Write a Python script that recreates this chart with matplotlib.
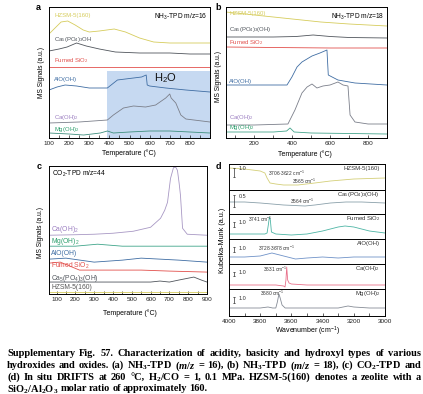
import matplotlib
matplotlib.use('Agg')
import matplotlib.pyplot as plt
from matplotlib.ticker import MultipleLocator

plt.rcParams['font.family'] = ['Liberation Sans', 'DejaVu Sans']
plt.rcParams['mathtext.fontset'] = 'custom'
plt.rcParams['mathtext.rm'] = 'Liberation Sans'
plt.rcParams['mathtext.it'] = 'Liberation Serif:italic:bold'
plt.rcParams['mathtext.bf'] = 'Liberation Sans:bold'

# ---------------- data: panel a (NH3-TPD m/z=16) ----------------
a_hzsm_T = [100, 130, 160, 193, 230, 270, 300, 350, 424, 480, 550, 620, 700, 800, 900]
a_hzsm_y = [104, 110, 116, 117, 113, 108, 106, 107, 109, 106, 100, 96, 95, 95, 95]
a_ca5_T = [100, 150, 190, 237, 285, 350, 430, 550, 700, 800, 900]
a_ca5_y = [87, 89, 91, 95, 92, 89, 86, 85, 85, 84, 84]
a_sio2_T = [100, 400, 900]
a_sio2_y = [71, 71, 71]
a_alo_T = [100, 140, 180, 237, 300, 390, 415, 440, 480, 520, 560, 583, 588, 600, 680, 780, 900]
a_alo_y = [48, 51, 53, 52, 50, 50, 54, 58, 59, 60, 61, 63, 53, 52, 50, 48, 46]
a_caoh_T = [100, 250, 390, 420, 470, 520, 580, 630, 680, 700, 707, 730, 755, 780, 900]
a_caoh_y = [15, 16, 18, 23, 30, 32, 31, 33, 40, 44, 40, 35, 23, 19, 16]
a_mg_T = [100, 200, 272, 355, 390, 420, 500, 600, 700, 800, 900]
a_mg_y = [5, 4, 3, 5, 7, 5, 6, 7, 7, 6, 5]
a_shade = (390, 900, 67)

# ---------------- data: panel b (NH3-TPD m/z=18) ----------------
b_hzsm_T = [50, 200, 300, 400, 550, 700, 900]
b_hzsm_y = [126, 123, 121, 119, 116, 114, 112]
b_ca5_T = [50, 300, 420, 510, 600, 700, 900]
b_ca5_y = [101, 101, 101.5, 103, 101.5, 100.5, 100]
b_sio2_T = [50, 300, 600, 900]
b_sio2_y = [91, 90.5, 90, 90]
b_alo_T = [50, 200, 372, 398, 425, 451, 504, 546, 583, 590, 641, 731, 900]
b_alo_y = [53, 53, 53, 61, 71, 76, 82, 85, 88, 63, 58, 55, 53]
b_caoh_T = [50, 200, 377, 414, 451, 478, 504, 530, 562, 599, 641, 668, 694, 705, 731, 800, 900]
b_caoh_y = [13, 13, 14, 28, 45, 51, 54, 50, 52, 53, 56, 53, 52, 23, 16, 14, 14]
b_mg_T = [50, 300, 370, 388, 410, 500, 700, 900]
b_mg_y = [6, 6, 7, 10, 6, 5, 4.5, 4]

# ---------------- data: panel c (CO2-TPD m/z=44) ----------------
c_caoh_T = [60, 200, 300, 400, 508, 600, 653, 675, 690, 706, 722, 735, 743, 752, 759, 770, 795, 900]
c_caoh_y = [59, 59.5, 60, 61, 63, 67, 76, 84, 92, 116, 127, 127, 124, 111, 99, 66, 60, 59]
c_mg_T = [60, 200, 318, 450, 600, 750, 900]
c_mg_y = [48, 48, 50, 48, 48, 48, 48]
c_alo_T = [60, 150, 300, 450, 550, 650, 750, 900]
c_alo_y = [35, 36, 32, 34, 36, 35, 34, 32]
c_sio2_T = [60, 120, 222, 400, 550, 700, 900]
c_sio2_y = [31, 32, 24, 24, 24, 23, 22]
c_ca5_T = [60, 300, 500, 600, 650, 700, 750, 830, 870, 900]
c_ca5_y = [12, 12, 12, 12, 13, 12, 14, 17, 14, 12]
c_hzsm_T = [60, 500, 900]
c_hzsm_y = [2, 2, 2]

# ---------------- data: panel d (DRIFTS) ----------------
d_hzsm_w = [4000, 3900, 3800, 3770, 3756, 3737, 3700, 3650, 3558, 3450, 3350, 3200, 3000]
d_hzsm_k = [22, 21, 19, 17, 12, 7, 6, 5, 5, 7, 9, 11, 12]
d_ca5_w = [4000, 3900, 3800, 3725, 3650, 3513, 3450, 3350, 3250, 3150, 3000]
d_ca5_k = [12, 12, 11, 10, 9, 8, 9, 11, 12, 12, 11]
d_sio2_w = [4000, 3850, 3770, 3756, 3748, 3741, 3735, 3728, 3700, 3600, 3500, 3400, 3300, 3256, 3200, 3100, 3000]
d_sio2_k = [5, 5, 5, 6, 14, 22, 19, 7, 5, 4, 5, 8, 12, 13, 12, 8, 6]
d_alo_w = [4000, 3900, 3800, 3725, 3650, 3574, 3500, 3400, 3300, 3200, 3100, 3000]
d_alo_k = [7, 7, 8, 11, 8, 5, 6, 7, 6, 7, 7, 7]
d_caoh_w = [4000, 3800, 3700, 3650, 3641, 3635, 3630, 3624, 3615, 3600, 3500, 3300, 3000]
d_caoh_k = [4, 4, 4, 3, 2, 9, 22, 9, 6, 5, 4, 4, 4]
d_mg_w = [4000, 3900, 3800, 3750, 3720, 3700, 3690, 3680, 3672, 3660, 3640, 3600, 3500, 3400, 3300, 3237, 3200, 3100, 3000]
d_mg_k = [8, 8, 8, 9, 8, 8, 14, 22, 18, 11, 8, 8, 8, 8, 8, 10, 9, 8, 8]
d_heights = [26, 24, 25, 25, 25, 27]
d_bar = [(13, 22, '1.0'), (7, 19, '0.5'), (12, 17, '1.0'), (12, 17, '1.0'), (13, 17, '1.0'), (13, 19, '1.0')]

# ---------------- style ----------------
W, H = 423, 394
fig = plt.figure(figsize=(W / 100, H / 100), dpi=100)

C_Y = '#d6cc5c'
C_DK = '#50555c'
C_RED = '#e2504c'
C_BLUE = '#3f6da3'
C_CA_T = '#9a7cc0'
C_CA_L = '#7b7f8a'
C_GR_T = '#2c9f6c'
C_GR_L = '#3f8f7e'
SUB = lambda s: r'$\mathregular{_{%s}}$' % s
SUP = lambda s: r'$\mathregular{^{%s}}$' % s


def rect(l, t, r, b):
    return [l / W, 1 - b / H, (r - l) / W, (b - t) / H]


def style_tpd(ax, xlim, ylim, major, minor):
    ax.set_xlim(*xlim)
    ax.set_ylim(*ylim)
    ax.set_yticks([])
    ax.xaxis.set_major_locator(MultipleLocator(major))
    ax.xaxis.set_minor_locator(MultipleLocator(minor))
    ax.tick_params(axis='x', which='both', direction='in', length=2, width=0.5,
                   labelsize=4.6, pad=2, colors='#222222')
    for s in ax.spines.values():
        s.set_linewidth(0.7)


LW = 0.6
LFS = 4.3

# ---------------- panel a ----------------
axa = fig.add_axes(rect(49, 7, 210, 138))
style_tpd(axa, (100, 900), (0, 131), 100, 50)
axa.set_xticks(range(100, 900, 100))
axa.axvspan(a_shade[0], a_shade[1], ymin=0, ymax=a_shade[2] / 131, color='#c6d9f1', lw=0, zorder=0)
axa.plot(a_hzsm_T, a_hzsm_y, color=C_Y, lw=LW)
axa.plot(a_ca5_T, a_ca5_y, color=C_DK, lw=LW)
axa.plot(a_sio2_T, a_sio2_y, color=C_RED, lw=LW)
axa.plot(a_alo_T, a_alo_y, color=C_BLUE, lw=LW)
axa.plot(a_caoh_T, a_caoh_y, color=C_CA_L, lw=LW)
axa.plot(a_mg_T, a_mg_y, color=C_GR_L, lw=LW)
for txt, y, c in [('HZSM-5(160)', 123, C_Y),
                  ('Ca' + SUB(5) + '(PO' + SUB(4) + ')' + SUB(3) + 'OH', 98, C_DK),
                  ('Fumed SiO' + SUB(2), 77, C_RED),
                  ('AlO(OH)', 58, C_BLUE),
                  ('Ca(OH)' + SUB(2), 20, C_CA_T),
                  ('Mg(OH)' + SUB(2), 8, C_GR_T)]:
    axa.text(125, y, txt, color=c, fontsize=LFS, va='center', ha='left')
axa.text(680, 60, 'H' + SUB(2) + 'O', fontsize=8, ha='center', va='center', color='#111111')
axa.text(0.985, 0.965, 'NH' + SUB(3) + '-TPD m/z=16', transform=axa.transAxes,
         fontsize=4.8, ha='right', va='top')

# ---------------- panel b ----------------
axb = fig.add_axes(rect(226, 7, 387, 138))
style_tpd(axb, (50, 900), (0, 131), 200, 100)
axb.plot(b_hzsm_T, b_hzsm_y, color=C_Y, lw=LW)
axb.plot(b_ca5_T, b_ca5_y, color=C_DK, lw=LW)
axb.plot(b_sio2_T, b_sio2_y, color=C_RED, lw=LW)
axb.plot(b_alo_T, b_alo_y, color=C_BLUE, lw=LW)
axb.plot(b_caoh_T, b_caoh_y, color=C_CA_L, lw=LW)
axb.plot(b_mg_T, b_mg_y, color='#45a58c', lw=LW)
for txt, y, c in [('HZSM-5(160)', 124, C_Y),
                  ('Ca' + SUB(5) + '(PO' + SUB(4) + ')' + SUB(3) + '(OH)', 108, C_DK),
                  ('Fumed SiO' + SUB(2), 95, C_RED),
                  ('AlO(OH)', 57, C_BLUE),
                  ('Ca(OH)' + SUB(2), 20, C_CA_T),
                  ('Mg(OH)' + SUB(2), 10, C_GR_T)]:
    axb.text(66, y, txt, color=c, fontsize=LFS, va='center', ha='left')
axb.text(0.985, 0.965, 'NH' + SUB(3) + '-TPD m/z=18', transform=axb.transAxes,
         fontsize=4.8, ha='right', va='top')

# ---------------- panel c ----------------
axc = fig.add_axes(rect(49, 166, 207, 294))
style_tpd(axc, (60, 900), (0, 128.5), 100, 50)
axc.plot(c_caoh_T, c_caoh_y, color='#a898c4', lw=LW)
axc.plot(c_mg_T, c_mg_y, color='#3fa58a', lw=LW)
axc.plot(c_alo_T, c_alo_y, color=C_BLUE, lw=LW)
axc.plot(c_sio2_T, c_sio2_y, color=C_RED, lw=LW)
axc.plot(c_ca5_T, c_ca5_y, color=C_DK, lw=LW)
axc.plot(c_hzsm_T, c_hzsm_y, color=C_Y, lw=LW)
for txt, y, c in [('Ca(OH)' + SUB(2), 65, C_CA_T),
                  ('Mg(OH)' + SUB(2), 53, C_GR_T),
                  ('AlO(OH)', 41, C_BLUE),
                  ('Fumed SiO' + SUB(2), 28, C_RED),
                  ('Ca' + SUB(5) + '(PO' + SUB(4) + ')' + SUB(3) + '(OH)', 16, C_DK),
                  ('HZSM-5(160)', 7, '#555555')]:
    axc.text(73, y, txt, color=c, fontsize=4.9, va='center', ha='left')
axc.text(0.02, 0.975, 'CO' + SUB(2) + '-TPD m/z=44', transform=axc.transAxes,
         fontsize=4.8, ha='left', va='top')

# ---------------- panel d ----------------
d_series = [(d_hzsm_w, d_hzsm_k, '#d4cf78', 'HZSM-5(160)'),
            (d_ca5_w, d_ca5_k, '#8aa0aa', 'Ca' + SUB(5) + '(PO' + SUB(4) + ')' + SUB(3) + '(OH)'),
            (d_sio2_w, d_sio2_k, '#4db5a5', 'Fumed SiO' + SUB(2)),
            (d_alo_w, d_alo_k, '#6f92c8', 'AlO(OH)'),
            (d_caoh_w, d_caoh_k, '#e8708a', 'Ca(OH)' + SUB(2)),
            (d_mg_w, d_mg_k, '#868c96', 'Mg(OH)' + SUB(2))]
d_annot = [[('3706-3622 cm' + SUP('-1'), 3750, 17), ('3565 cm' + SUP('-1'), 3595, 8.5)],
           [('3564 cm' + SUP('-1'), 3609, 13)],
           [('3741 cm' + SUP('-1'), 3878, 20)],
           [('3728-3678 cm' + SUP('-1'), 3814, 16)],
           [('3631 cm' + SUP('-1'), 3782, 20)],
           [('3680 cm' + SUP('-1'), 3801, 23)]]
top = 164
for i, ((wv, kv, col, name), h) in enumerate(zip(d_series, d_heights)):
    ax = fig.add_axes(rect(229, top, 385, top + h))
    ax.set_xlim(4000, 3000)
    ax.set_ylim(0, h)
    ax.set_yticks([])
    for s in ax.spines.values():
        s.set_linewidth(0.7)
    ax.plot(wv, kv, color=col, lw=LW)
    ax.text(3032, h - 4.5, name, fontsize=4.3, ha='right', va='center', color='#333333')
    for txt, xw, yk in d_annot[i]:
        ax.text(xw, yk, txt, fontsize=3.5, ha='left', va='center', color='#333333')
    y0, y1, lab = d_bar[i]
    ax.plot([3968, 3968], [y0, y1], color='#333333', lw=0.5)
    ax.plot([3972, 3964], [y0, y0], color='#333333', lw=0.4)
    ax.plot([3972, 3964], [y1, y1], color='#333333', lw=0.4)
    ax.text(3940, y1 - 1, lab, fontsize=4.0, ha='left', va='center', color='#333333')
    if i < 5:
        ax.set_xticks([])
    else:
        ax.xaxis.set_major_locator(MultipleLocator(200))
        ax.xaxis.set_minor_locator(MultipleLocator(100))
        ax.tick_params(axis='x', which='both', direction='in', length=2, width=0.5,
                       labelsize=4.6, pad=2, colors='#222222')
    top += h

# ---------------- labels ----------------
for lab, x, y in [('a', 38, 7), ('b', 218, 7), ('c', 39, 166), ('d', 218, 166)]:
    fig.text(x / W, 1 - y / H, lab, fontsize=6.5, fontweight='bold', ha='center', va='center')
for x, y in [(41, 73), (218, 77), (40, 232)]:
    fig.text(x / W, 1 - y / H, 'MS Signals (a.u.)', fontsize=4.8, rotation=90, ha='center', va='center')
fig.text(222 / W, 1 - 240 / H, 'Kubelka-Munk (a.u.)', fontsize=5.2, rotation=90, ha='center', va='center')
for x, y in [(129, 153), (305, 154), (130, 313)]:
    fig.text(x / W, 1 - y / H, 'Temperature (°C)', fontsize=5.0, ha='center', va='center')
fig.text(307 / W, 1 - 331 / H, 'Wavenumber (cm' + SUP('-1') + ')', fontsize=5.0, ha='center', va='center')

# ---------------- caption ----------------
cap_lines = [
    ['Supplementary', 'Fig.', '57.', 'Characterization', 'of', 'acidity,', 'basicity', 'and', 'hydroxyl',
     'types', 'of', 'various'],
    ['hydroxides', 'and', 'oxides.', '(a)', 'NH' + SUB(3) + '-TPD', '($\\mathit{m}$/$\\mathit{z}$', '=', '16),',
     '(b)', 'NH' + SUB(3) + '-TPD', '($\\mathit{m}$/$\\mathit{z}$', '=', '18),', '(c)', 'CO' + SUB(2) + '-TPD', 'and'],
    ['(d)', 'In', 'situ', 'DRIFTS', 'at', '260', '°C,', 'H' + SUB(2) + '/CO', '=', '1,', '0.1', 'MPa.',
     'HZSM-5(160)', 'denotes', 'a', 'zeolite', 'with', 'a'],
    ['SiO' + SUB(2) + '/Al' + SUB(2) + 'O' + SUB(3), 'molar', 'ratio', 'of', 'approximately', '160.'],
]
cap_y = [352, 364, 376, 387.5]
CAPFS = 7.5
renderer = fig.canvas.get_renderer()
x_left, x_right = 7, 421
for li, (words, yc) in enumerate(zip(cap_lines, cap_y)):
    texts = [fig.text(0, 1 - yc / H, w, fontsize=CAPFS, fontweight='bold',
                      family=['Liberation Serif', 'DejaVu Serif'], ha='left', va='center_baseline')
             for w in words]
    widths = [t.get_window_extent(renderer).width for t in texts]
    if li < len(cap_lines) - 1:
        gap = (x_right - x_left - sum(widths)) / (len(words) - 1)
    else:
        gap = 2.0
    x = x_left
    for t, wd in zip(texts, widths):
        t.set_x(x / W)
        x += wd + gap

fig.savefig('out.png', dpi=100)
